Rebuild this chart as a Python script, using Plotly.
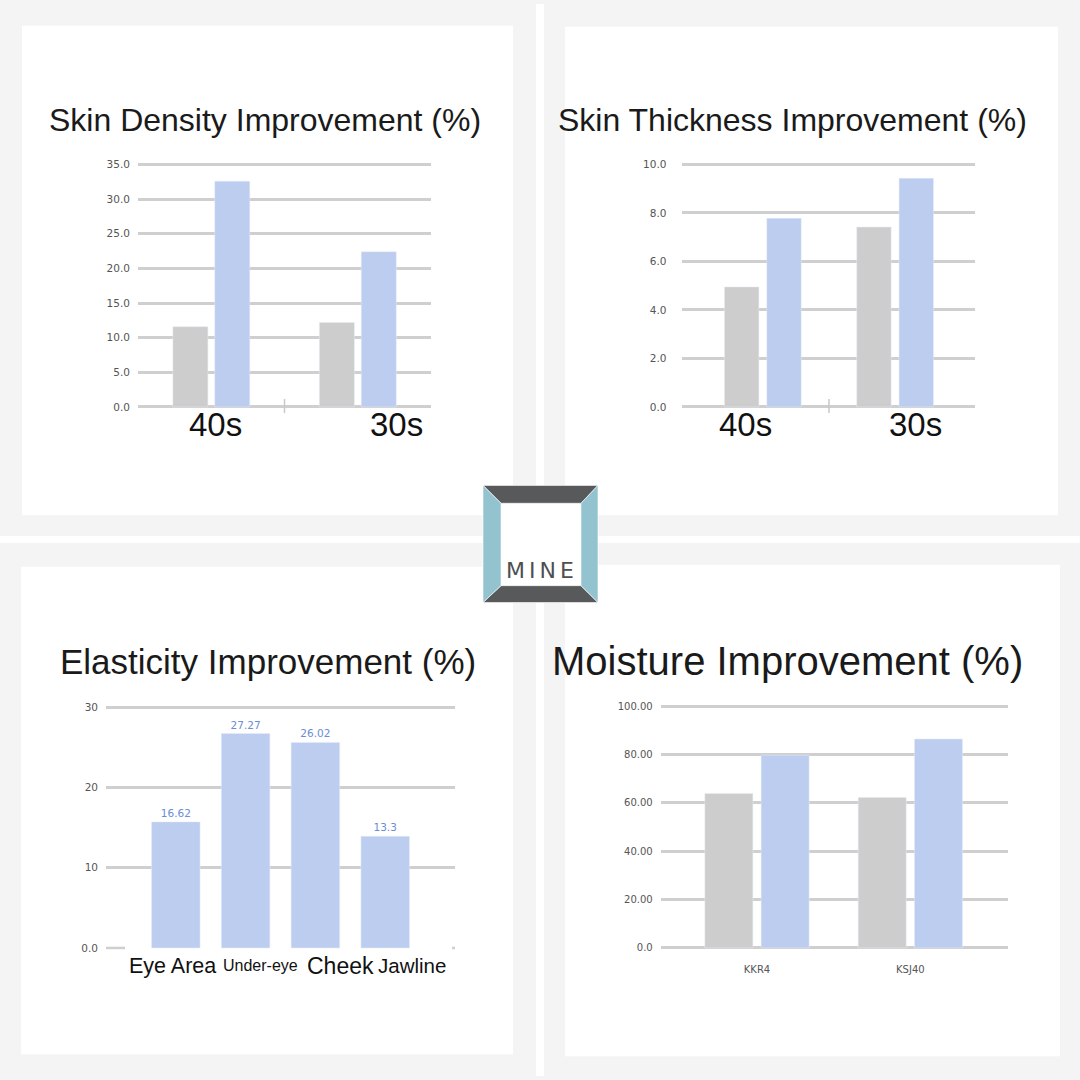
import plotly.graph_objects as go

# ---------------- data ----------------
age_groups = ["40s", "30s"]
density_gray = [11.6, 12.2]
density_blue = [32.6, 22.4]

thickness_gray = [4.95, 7.42]
thickness_blue = [7.78, 9.43]

elastic_areas = ["Eye Area", "Under-eye", "Cheek", "Jawline"]
elastic_values = [15.7, 26.7, 25.6, 13.9]
elastic_labels = ["16.62", "27.27", "26.02", "13.3"]

moisture_groups = ["KKR4", "KSJ40"]
moisture_gray = [63.9, 62.2]
moisture_blue = [79.7, 86.4]

density_ticks = [0, 5, 10, 15, 20, 25, 30, 35]
density_ticktext = ["0.0", "5.0", "10.0", "15.0", "20.0", "25.0", "30.0", "35.0"]
thick_ticks = [0, 2, 4, 6, 8, 10]
thick_ticktext = ["0.0", "2.0", "4.0", "6.0", "8.0", "10.0"]
elastic_ticks = [0, 10, 20, 30]
elastic_ticktext = ["0.0", "10", "20", "30"]
moist_ticks = [0, 20, 40, 60, 80, 100]
moist_ticktext = ["0.0", "20.00", "40.00", "60.00", "80.00", "100.00"]

titles = ["Skin Density Improvement (%)", "Skin Thickness Improvement (%)",
          "Elasticity Improvement (%)", "Moisture Improvement (%)"]

# ---------------- style ----------------
W = 1080
GRAY = "#cdcdcd"
BLUE = "#bdcdf0"
GRID = "#cfcfcf"
TICK = "#555555"
BG = "#f4f4f4"
FONT = "Liberation Sans, Arial, sans-serif"
TFONT = "DejaVu Sans, sans-serif"


def px(v):
    return v / W


def py(v):
    return 1 - v / W


def ydom(bottom_px, top_px, vmax, pad=2):
    """domain and range slightly padded so that the edge gridlines are drawn"""
    span = bottom_px - top_px
    per = vmax / span
    return ([py(bottom_px + pad), py(top_px - pad)], [-pad * per, vmax + pad * per])


fig = go.Figure()

# panel 1: skin density
fig.add_bar(x=age_groups, y=density_gray, marker_color=GRAY, width=0.239, offset=-0.262,
            xaxis="x", yaxis="y", hoverinfo="skip")
fig.add_bar(x=age_groups, y=density_blue, marker_color=BLUE, width=0.239, offset=0.024,
            xaxis="x", yaxis="y", hoverinfo="skip")
# panel 2: skin thickness
fig.add_bar(x=age_groups, y=thickness_gray, marker_color=GRAY, width=0.26, offset=-0.29,
            xaxis="x2", yaxis="y2", hoverinfo="skip")
fig.add_bar(x=age_groups, y=thickness_blue, marker_color=BLUE, width=0.26, offset=0.03,
            xaxis="x2", yaxis="y2", hoverinfo="skip")
# panel 3: elasticity
fig.add_bar(x=elastic_areas, y=elastic_values, marker_color=BLUE, width=0.695,
            text=elastic_labels, textposition="outside", cliponaxis=False,
            textfont=dict(family=TFONT, size=10.5, color="#6a8dd4"),
            xaxis="x3", yaxis="y3", hoverinfo="skip")
# panel 4: moisture
fig.add_bar(x=moisture_groups, y=moisture_gray, marker_color=GRAY, width=0.313, offset=-0.34,
            xaxis="x4", yaxis="y4", hoverinfo="skip")
fig.add_bar(x=moisture_groups, y=moisture_blue, marker_color=BLUE, width=0.313, offset=0.027,
            xaxis="x4", yaxis="y4", hoverinfo="skip")

common_x = dict(type="category", showgrid=False, zeroline=False, showline=False, ticks="",
                fixedrange=True)
common_y = dict(showgrid=True, gridcolor=GRID, gridwidth=2.5, zeroline=False, showline=False,
                ticks="", tickfont=dict(family=TFONT, size=10.5, color=TICK),
                ticklabelstandoff=7, fixedrange=True)

d1, r1 = ydom(406, 161.7, 35)
d2, r2 = ydom(406, 161.7, 10)
d3, r3 = ydom(951, 708.3, 30)
d4, r4 = ydom(951, 707.3, 100)

fig.update_layout(
    width=W, height=W,
    margin=dict(l=0, r=0, t=0, b=0),
    paper_bgcolor=BG, plot_bgcolor="rgba(0,0,0,0)",
    showlegend=False, barmode="overlay",
    xaxis=dict(common_x, domain=[px(138), px(431)], range=[-0.5, 1.5], showticklabels=False,
               anchor="y"),
    yaxis=dict(common_y, domain=d1, range=r1, tickvals=density_ticks,
               ticktext=density_ticktext, anchor="x"),
    xaxis2=dict(common_x, domain=[px(681.5), px(975)], range=[-0.615, 1.604],
                showticklabels=False, anchor="y2"),
    yaxis2=dict(common_y, domain=d2, range=r2, tickvals=thick_ticks,
                ticktext=thick_ticktext, anchor="x2", ticklabelstandoff=14),
    xaxis3=dict(common_x, domain=[px(106), px(455)], range=[-1, 4], showticklabels=False,
                anchor="y3"),
    yaxis3=dict(common_y, domain=d3, range=r3, tickvals=elastic_ticks,
                ticktext=elastic_ticktext, anchor="x3", zeroline=True, zerolinecolor="white",
                zerolinewidth=3),
    xaxis4=dict(common_x, domain=[px(660.7), px(1008)], range=[-0.628, 1.637],
                showticklabels=True, tickfont=dict(family=TFONT, size=10, color=TICK),
                ticklabelstandoff=12, anchor="y4"),
    yaxis4=dict(common_y, domain=d4, range=r4, tickvals=moist_ticks,
                ticktext=moist_ticktext, anchor="x4", tickfont=dict(family=TFONT, size=10, color=TICK)),
)

shapes = []
# white panels
for (x0, y0, x1, y1) in [(22, 22, 513, 515), (565, 23, 1058, 515),
                         (21, 567, 513, 1058), (565, 565, 1060, 1060)]:
    shapes.append(dict(type="rect", xref="paper", yref="paper", x0=px(x0), x1=px(x1),
                       y0=py(y1), y1=py(y0), fillcolor="white", line_width=0, layer="below"))
# white cross strips
shapes.append(dict(type="rect", xref="paper", yref="paper", x0=px(536), x1=px(544), y0=0, y1=1,
                   fillcolor="white", line_width=0, layer="below"))
shapes.append(dict(type="rect", xref="paper", yref="paper", x0=0, x1=1, y0=py(543), y1=py(536),
                   fillcolor="white", line_width=0, layer="below"))
# category separator ticks (top charts)
for xr in ["x", "x2"]:
    shapes.append(dict(type="line", xref=xr, yref="paper", x0=0.5, x1=0.5, y0=py(412), y1=py(398),
                       line=dict(color="#c8c8c8", width=1.5)))
# stub of zero line in elasticity chart
shapes.append(dict(type="line", xref="paper", yref="paper", x0=px(106), x1=px(125), y0=py(951),
                   y1=py(951), line=dict(color=GRID, width=2.5)))
shapes.append(dict(type="line", xref="paper", yref="paper", x0=px(452), x1=px(455), y0=py(951),
                   y1=py(951), line=dict(color=GRID, width=2.5)))

# logo
DARK = "#58595b"
LBLUE = "#92c3cf"
ox0, oy0, ox1, oy1 = 483, 485, 598, 603
ix0, iy0, ix1, iy1 = 501, 503, 581, 586
shapes.append(dict(type="rect", xref="paper", yref="paper", x0=px(ox0), x1=px(ox1), y0=py(oy1),
                   y1=py(oy0), fillcolor="white", line_width=0))


def poly(pts, color):
    d = "M " + " L ".join(f"{px(a):.5f},{py(b):.5f}" for a, b in pts) + " Z"
    return dict(type="path", xref="paper", yref="paper", path=d, fillcolor=color,
                line=dict(color="white", width=0.6))


shapes.append(poly([(ox0, oy0), (ox1, oy0), (ix1, iy0), (ix0, iy0)], DARK))
shapes.append(poly([(ox0, oy1), (ox1, oy1), (ix1, iy1), (ix0, iy1)], DARK))
shapes.append(poly([(ox0, oy0), (ix0, iy0), (ix0, iy1), (ox0, oy1)], LBLUE))
shapes.append(poly([(ox1, oy0), (ix1, iy0), (ix1, iy1), (ox1, oy1)], LBLUE))
fig.update_layout(shapes=shapes)

ann = []
# titles
for t, (cx, cy, sz) in zip(titles, [(265, 117, 32), (792.5, 117, 32), (268, 662, 35), (787, 662, 40)]):
    ann.append(dict(text=t, x=px(cx), y=py(cy), xref="paper", yref="paper", showarrow=False,
                    xanchor="center", yanchor="middle", font=dict(family=FONT, size=sz, color="#1a1a1a")))
# category labels for top charts
for xr, shifts in [("x", [4, 39]), ("x2", [-17.5, 20])]:
    for cat, sh in zip(age_groups, shifts):
        ann.append(dict(text=cat, x=cat, y=py(424), xref=xr, yref="paper", showarrow=False,
                        xshift=sh, xanchor="center", yanchor="middle",
                        font=dict(family=FONT, size=33, color="#111111")))
# elasticity category labels
for cat, sh, sz in zip(elastic_areas, [-3, 15, 25, 27], [21.5, 16, 23, 20.5]):
    ann.append(dict(text=cat, x=cat, y=py(969), xref="x3", yref="paper", showarrow=False,
                    xshift=sh, xanchor="center", yanchor="middle",
                    font=dict(family=FONT, size=sz, color="#111111")))
# logo text
ann.append(dict(text='<span style="letter-spacing:4px">MINE</span>', x=px(542), y=py(571),
                xref="paper", yref="paper", showarrow=False, xanchor="center", yanchor="middle",
                font=dict(family="DejaVu Sans, sans-serif", size=22, color="#4e4f51")))
fig.update_layout(annotations=ann)

fig.write_html("out.html")
